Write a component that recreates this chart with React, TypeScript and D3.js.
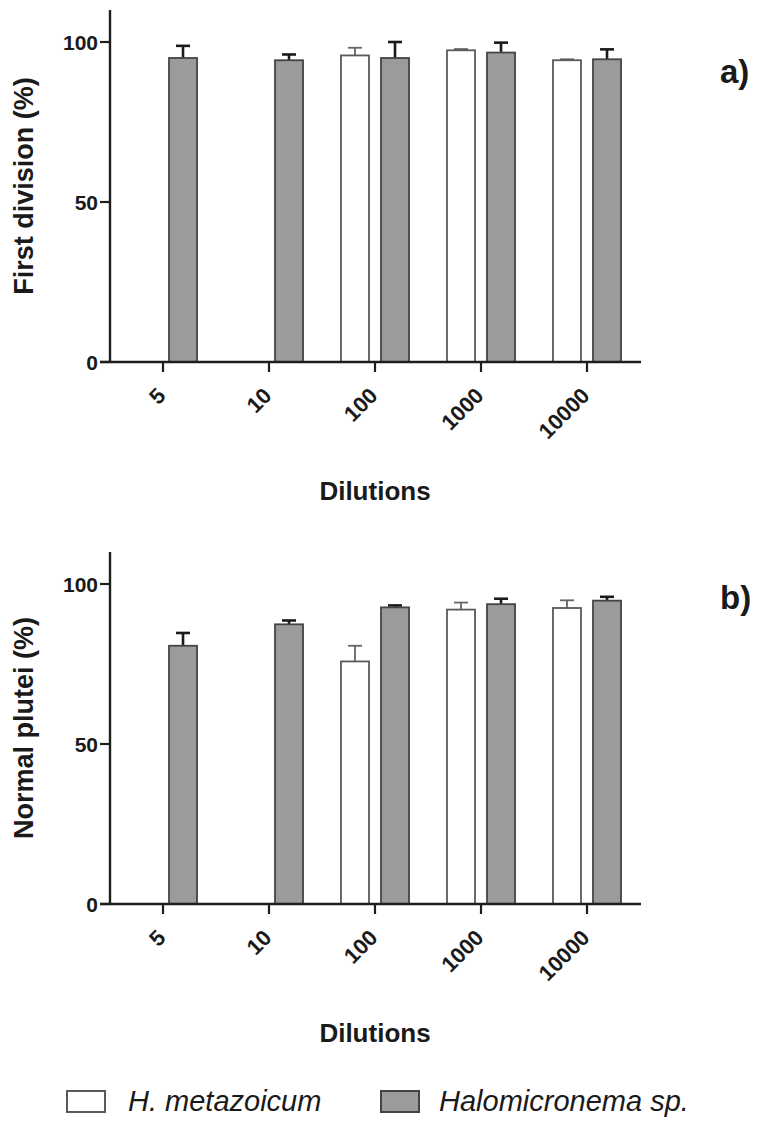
import React from 'react';
import { scaleBand, scaleLinear } from 'd3';

const categories = ['5', '10', '100', '1000', '10000'];
const seriesNames = ['H. metazoicum', 'Halomicronema sp.'];
const yTicks = [0, 50, 100];

// panel a) first division
const firstDivMeta = [null, null, 95.8, 97.4, 94.3];
const firstDivMetaErr = [null, null, 2.4, 0.4, 0.3];
const firstDivHalo = [95.0, 94.3, 95.0, 96.7, 94.6];
const firstDivHaloErr = [3.8, 1.8, 5.0, 3.1, 3.1];

// panel b) normal plutei
const plutMeta = [null, null, 75.8, 92.0, 92.5];
const plutMetaErr = [null, null, 4.9, 2.2, 2.4];
const plutHalo = [80.7, 87.4, 92.7, 93.7, 94.8];
const plutHaloErr = [4.0, 1.2, 0.6, 1.7, 1.2];

const FONT = '"Liberation Sans", Arial, sans-serif';
const fills = ['#ffffff', '#9b9b9b'];
const strokes = ['#5a5a5a', '#444444'];
const errColors = ['#666666', '#1a1a1a'];

const x0 = scaleBand<string>()
  .domain(categories)
  .range([110, 640])
  .paddingInner(0.358)
  .paddingOuter(0.179);

const x1 = scaleBand<string>()
  .domain(seriesNames)
  .range([0, x0.bandwidth()])
  .paddingInner(0.3);

const Panel = ({ top, yLabel, letter, letterY, meta, metaErr, halo, haloErr }) => {
  const y = scaleLinear().domain([0, 110]).range([top + 352, top]);
  const y0 = y(0);
  const series = [
    { vals: meta, errs: metaErr },
    { vals: halo, errs: haloErr },
  ];
  const midX = (x0.range()[0] + x0.range()[1]) / 2;
  const midY = (y(0) + y(110)) / 2;

  return (
    <g>
      {/* bars + error bars */}
      {series.map((s, si) =>
        categories.map((c, ci) => {
          const v = s.vals[ci];
          if (v == null) return null;
          const bx = x0(c) + x1(seriesNames[si]);
          const bw = x1.bandwidth();
          const cx = bx + bw / 2;
          const yTop = y(v);
          const yErr = y(v + s.errs[ci]);
          return (
            <g key={`${si}-${ci}`}>
              <line x1={cx} x2={cx} y1={yTop} y2={yErr} stroke={errColors[si]} strokeWidth={si ? 2.6 : 1.8} />
              <line x1={cx - 7} x2={cx + 7} y1={yErr} y2={yErr} stroke={errColors[si]} strokeWidth={si ? 2.6 : 1.8} />
              <rect x={bx} y={yTop} width={bw} height={y0 - yTop} fill={fills[si]} stroke={strokes[si]} strokeWidth={1.8} />
            </g>
          );
        })
      )}

      {/* y axis */}
      <line x1={110} x2={110} y1={y(110)} y2={y0 + 1} stroke="#1e1e1e" strokeWidth={2.4} />
      {yTicks.map(t => (
        <g key={t}>
          <line x1={100} x2={110} y1={y(t)} y2={y(t)} stroke="#1e1e1e" strokeWidth={2.2} />
          <text x={98} y={y(t)} dy="0.36em" textAnchor="end" fontSize={21} fontWeight="bold" fontFamily={FONT} fill="#1a1a1a">
            {t}
          </text>
        </g>
      ))}

      {/* x axis */}
      <line x1={100} x2={641} y1={y0} y2={y0} stroke="#1e1e1e" strokeWidth={2.6} />
      {categories.map(c => {
        const tx = x0(c) + x0.bandwidth() / 2;
        return (
          <g key={c}>
            <line x1={tx} x2={tx} y1={y0} y2={y0 + 10} stroke="#1e1e1e" strokeWidth={2.2} />
            <text
              transform={`translate(${tx + 4},${y0 + 35}) rotate(-45)`}
              textAnchor="end"
              fontSize={22}
              fontWeight="bold"
              fontFamily={FONT}
              fill="#1a1a1a"
            >
              {c}
            </text>
          </g>
        );
      })}

      <text x={midX} y={y0 + 138} textAnchor="middle" fontSize={26} fontWeight="bold" fontFamily={FONT} fill="#1a1a1a">
        Dilutions
      </text>
      <text
        transform={`translate(33,${midY}) rotate(-90)`}
        textAnchor="middle"
        fontSize={27}
        fontWeight="bold"
        fontFamily={FONT}
        fill="#1a1a1a"
      >
        {yLabel}
      </text>
      <text x={720} y={letterY} fontSize={33} fontWeight="bold" fontFamily={FONT} fill="#1a1a1a">
        {letter}
      </text>
    </g>
  );
};

const App = () => {
  const legendItems = [
    { name: seriesNames[0], bx: 67, tx: 128 },
    { name: seriesNames[1], bx: 381, tx: 439 },
  ];
  return (
    <svg width={766} height={1127} style={{ position: 'absolute', left: 0, top: 0, background: '#fff' }}>
      <Panel
        top={10}
        yLabel="First division (%)"
        letter="a)"
        letterY={83}
        meta={firstDivMeta}
        metaErr={firstDivMetaErr}
        halo={firstDivHalo}
        haloErr={firstDivHaloErr}
      />
      <Panel
        top={552}
        yLabel="Normal plutei (%)"
        letter="b)"
        letterY={609}
        meta={plutMeta}
        metaErr={plutMetaErr}
        halo={plutHalo}
        haloErr={plutHaloErr}
      />
      {legendItems.map((d, i) => (
        <g key={d.name}>
          <rect x={d.bx} y={1091} width={38} height={21} fill={fills[i]} stroke={strokes[i]} strokeWidth={2} />
          <text x={d.tx} y={1111} fontSize={29} fontStyle="italic" fontFamily={FONT} fill="#1a1a1a">
            {d.name}
          </text>
        </g>
      ))}
    </svg>
  );
};

export default App;
